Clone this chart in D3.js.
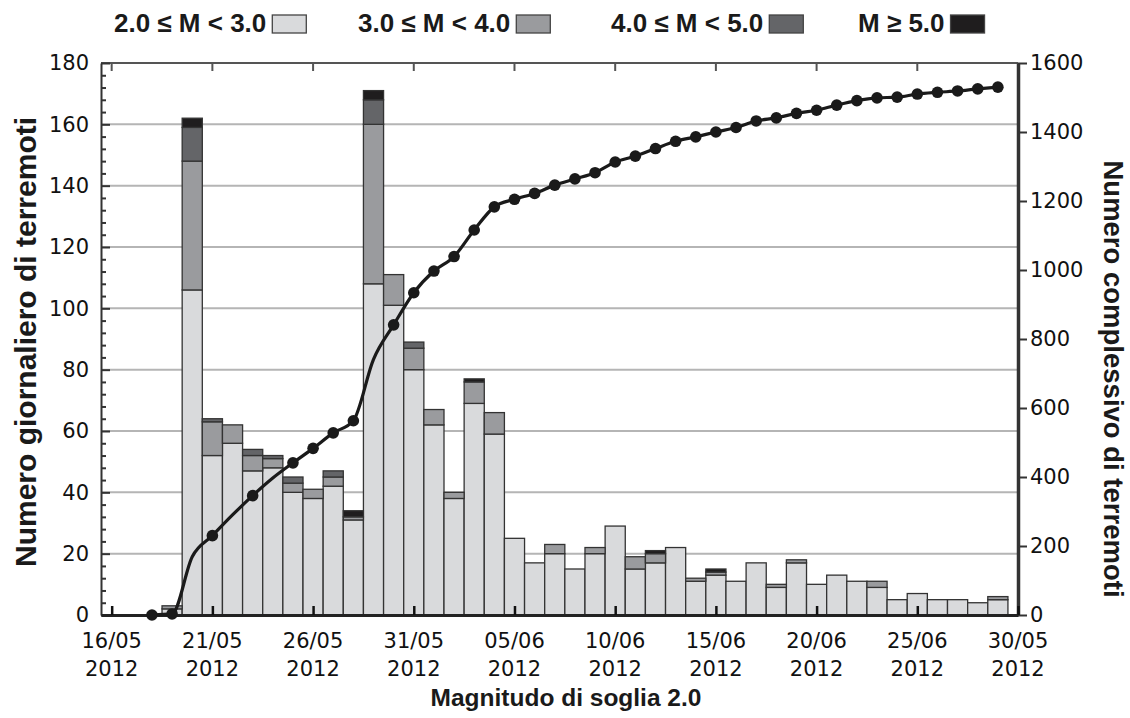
<!DOCTYPE html>
<html><head><meta charset="utf-8">
<script src="https://cdn.jsdelivr.net/npm/d3@7"></script>
<style>html,body{margin:0;padding:0;background:#fff;}svg{display:block;}</style>
</head><body>
<svg id="chart" width="1130" height="718"></svg>
<script>
// ---------- DATA ----------
const barDays = ["2012-05-19","2012-05-20","2012-05-21","2012-05-22","2012-05-23","2012-05-24","2012-05-25","2012-05-26","2012-05-27","2012-05-28",
  "2012-05-29","2012-05-30","2012-05-31","2012-06-01","2012-06-02","2012-06-03","2012-06-04","2012-06-05","2012-06-06","2012-06-07",
  "2012-06-08","2012-06-09","2012-06-10","2012-06-11","2012-06-12","2012-06-13","2012-06-14","2012-06-15","2012-06-16","2012-06-17",
  "2012-06-18","2012-06-19","2012-06-20","2012-06-21","2012-06-22","2012-06-23","2012-06-24","2012-06-25","2012-06-26","2012-06-27",
  "2012-06-28","2012-06-29"];
const m2to3 = [2,106,52,56,47,48,40,38,42,31, 108,101,80,62,38,69,59,25,17,20, 15,20,29,15,17,22,11,13,11,17, 9,17,10,13,11,9,5,7,5,5, 4,5];
const m3to4 = [1,42,11,6,5,3,3,3,3,1, 52,10,7,5,2,7,7,0,0,3, 0,2,0,4,3,0,1,1,0,0, 1,1,0,0,0,2,0,0,0,0, 0,1];
const m4to5 = [0,11,1,0,2,1,2,0,2,0, 8,0,2,0,0,0,0,0,0,0, 0,0,0,0,0,0,0,0,0,0, 0,0,0,0,0,0,0,0,0,0, 0,0];
const m5plus = [0,3,0,0,0,0,0,0,0,2, 3,0,0,0,0,1,0,0,0,0, 0,0,0,0,1,0,0,1,0,0, 0,0,0,0,0,0,0,0,0,0, 0,0];

const cumDays = ["2012-05-18"].concat(barDays);
const cumulative = [0,3,169,230,290,346,397,441,483,528,563,741,841,934,997,1039,1116,1183,1205,1222,1246,1264,1282,1313,1330,1352,1373,1386,1400,1413,1432,1441,1454,1463,1478,1491,1499,1501,1510,1515,1519,1525,1530];
const cumNoMarker = ["2012-05-20","2012-05-22","2012-05-24","2012-05-29"];

const xTickDays = ["2012-05-16","2012-05-21","2012-05-26","2012-05-31","2012-06-05","2012-06-10","2012-06-15","2012-06-20","2012-06-25","2012-06-30"];
const xTickLabels = ["16/05","21/05","26/05","31/05","05/06","10/06","15/06","20/06","25/06","30/05"];
const xTickYear = "2012";
const leftTicks = [0,20,40,60,80,100,120,140,160,180];
const rightTicks = [0,200,400,600,800,1000,1200,1400,1600];

const seriesNames = ["2.0 \u2264 M < 3.0","3.0 \u2264 M < 4.0","4.0 \u2264 M < 5.0","M \u2265 5.0"];
const seriesColors = ["#d9dadc","#9a9b9e","#646568","#1f1d1e"];
const yTitleLeft = "Numero giornaliero di terremoti";
const yTitleRight = "Numero complessivo di terremoti";
const xTitle = "Magnitudo di soglia 2.0";

// ---------- LAYOUT ----------
const L = 101, R = 1018, T = 63, B = 615;
const DAY = 864e5;
const parse = s => new Date(s + "T00:00:00Z");
const svg = d3.select("#chart");

const x = d3.scaleUtc()
  .domain([new Date(parse("2012-05-16").getTime() - 0.53*DAY), parse("2012-06-30")])
  .range([L, R]);
const yL = d3.scaleLinear().domain([0,180]).range([B,T]);
const yR = d3.scaleLinear().domain([0,1600]).range([B,T]);

const tickFont = "'DejaVu Sans', Verdana, sans-serif";
const titleFont = "'Liberation Sans', Arial, sans-serif";
const tickSize = 21;

// gridlines
svg.append("g").selectAll("line").data(leftTicks.filter(v => v>0 && v<180)).join("line")
  .attr("x1", L).attr("x2", R).attr("y1", d=>yL(d)).attr("y2", d=>yL(d))
  .attr("stroke", "#b5b5b5").attr("stroke-width", 2);

// stacked bars
const rows = barDays.map((d,i) => ({date: parse(d), s0: m2to3[i], s1: m3to4[i], s2: m4to5[i], s3: m5plus[i]}));
const stack = d3.stack().keys(["s0","s1","s2","s3"])(rows);
const gBars = svg.append("g");
stack.forEach((layer, k) => {
  gBars.append("g").selectAll("rect").data(layer.filter(p => p[1] - p[0] > 0)).join("rect")
    .attr("x", p => x(new Date(p.data.date.getTime() - DAY/2)))
    .attr("width", p => x(new Date(p.data.date.getTime() + DAY/2)) - x(new Date(p.data.date.getTime() - DAY/2)))
    .attr("y", p => yL(p[1]))
    .attr("height", p => yL(p[0]) - yL(p[1]))
    .attr("fill", seriesColors[k])
    .attr("stroke", "#333").attr("stroke-width", 1.3);
});

// top frame
svg.append("line").attr("x1", L).attr("x2", R).attr("y1", T).attr("y2", T).attr("stroke", "#555").attr("stroke-width", 2);
svg.append("g").selectAll("line").data(xTickDays).join("line")
  .attr("x1", d=>x(parse(d))).attr("x2", d=>x(parse(d))).attr("y1", T).attr("y2", T+8)
  .attr("stroke", "#555").attr("stroke-width", 2);

// left axis
const axL = svg.append("g").attr("transform", `translate(${L},0)`)
  .call(d3.axisLeft(yL).tickValues(leftTicks).tickSizeInner(-9).tickSizeOuter(0).tickPadding(12));
axL.select(".domain").attr("stroke", "#333").attr("stroke-width", 2);
axL.selectAll(".tick line").attr("stroke", "#333").attr("stroke-width", 2);
axL.selectAll("text").attr("font-family", tickFont).attr("font-size", tickSize).attr("fill", "#111");
svg.append("g").attr("transform", `translate(${L},0)`)
  .call(d3.axisLeft(yL).tickValues(d3.range(0,181,4).filter(v=>v%20)).tickSize(-5).tickFormat(""))
  .call(g => g.select(".domain").remove())
  .selectAll(".tick line").attr("stroke", "#333").attr("stroke-width", 2);

// right axis
const axR = svg.append("g").attr("transform", `translate(${R},0)`)
  .call(d3.axisRight(yR).tickValues(rightTicks).tickFormat(d3.format("d")).tickSizeInner(9).tickSizeOuter(0).tickPadding(3));
axR.select(".domain").attr("stroke", "#333").attr("stroke-width", 3.5);
axR.selectAll(".tick line").attr("stroke", "#333").attr("stroke-width", 2);
axR.selectAll("text").attr("font-family", tickFont).attr("font-size", tickSize).attr("fill", "#111");

// bottom axis
const axB = svg.append("g").attr("transform", `translate(0,${B})`)
  .call(d3.axisBottom(x).tickValues(xTickDays.map(parse)).tickSizeInner(-9).tickSizeOuter(0).tickFormat(""));
axB.select(".domain").attr("stroke", "#222").attr("stroke-width", 3);
axB.selectAll(".tick line").attr("stroke", "#111").attr("stroke-width", 2.5);
const xl = svg.append("g").selectAll("text").data(xTickDays).join("text")
  .attr("x", d=>x(parse(d))).attr("y", 648)
  .attr("text-anchor", "middle").attr("font-family", tickFont).attr("font-size", tickSize).attr("fill", "#111");
xl.append("tspan").attr("x", d=>x(parse(d))).text((d,i)=>xTickLabels[i]);
xl.append("tspan").attr("x", d=>x(parse(d))).attr("dy", 28).text(xTickYear);

// cumulative line
const cum = cumDays.map((d,i)=>({date: parse(d), v: cumulative[i], day: d}));
svg.append("path").datum(cum)
  .attr("d", d3.line().x(p=>x(p.date)).y(p=>yR(p.v)).curve(d3.curveMonotoneX))
  .attr("fill", "none").attr("stroke", "#1a1a1a").attr("stroke-width", 3.2);
svg.append("g").selectAll("circle").data(cum.filter(p => !cumNoMarker.includes(p.day))).join("circle")
  .attr("cx", p=>x(p.date)).attr("cy", p=>yR(p.v)).attr("r", 5.8).attr("fill", "#1a1a1a");

// titles
svg.append("text").attr("transform", `translate(36,342) rotate(-90)`)
  .attr("text-anchor", "middle").attr("font-family", titleFont).attr("font-weight", "bold").attr("font-size", 30).attr("fill", "#1a1a1a")
  .text(yTitleLeft);
svg.append("text").attr("transform", `translate(1104,379) rotate(90)`)
  .attr("text-anchor", "middle").attr("font-family", titleFont).attr("font-weight", "bold").attr("font-size", 27.5).attr("fill", "#1a1a1a")
  .text(yTitleRight);
svg.append("text").attr("x", 566).attr("y", 706)
  .attr("text-anchor", "middle").attr("font-family", titleFont).attr("font-weight", "bold").attr("font-size", 24.5).attr("fill", "#1a1a1a")
  .text(xTitle);

// legend
const legX = [114, 358, 611, 858];
const leg = svg.append("g").selectAll("g").data(seriesNames).join("g")
  .attr("transform", (d,i)=>`translate(${legX[i]},0)`);
leg.append("text").attr("x", 0).attr("y", 32)
  .attr("font-family", titleFont).attr("font-weight", "bold").attr("font-size", 26).attr("fill", "#1a1a1a")
  .text(d=>d);
leg.each(function(d,i){
  const g = d3.select(this);
  const w = g.select("text").node().getComputedTextLength();
  g.append("rect").attr("x", w + 6).attr("y", 15).attr("width", 34).attr("height", 18)
    .attr("fill", seriesColors[i]).attr("stroke", "#444").attr("stroke-width", 1.3);
});
</script>
</body></html>
